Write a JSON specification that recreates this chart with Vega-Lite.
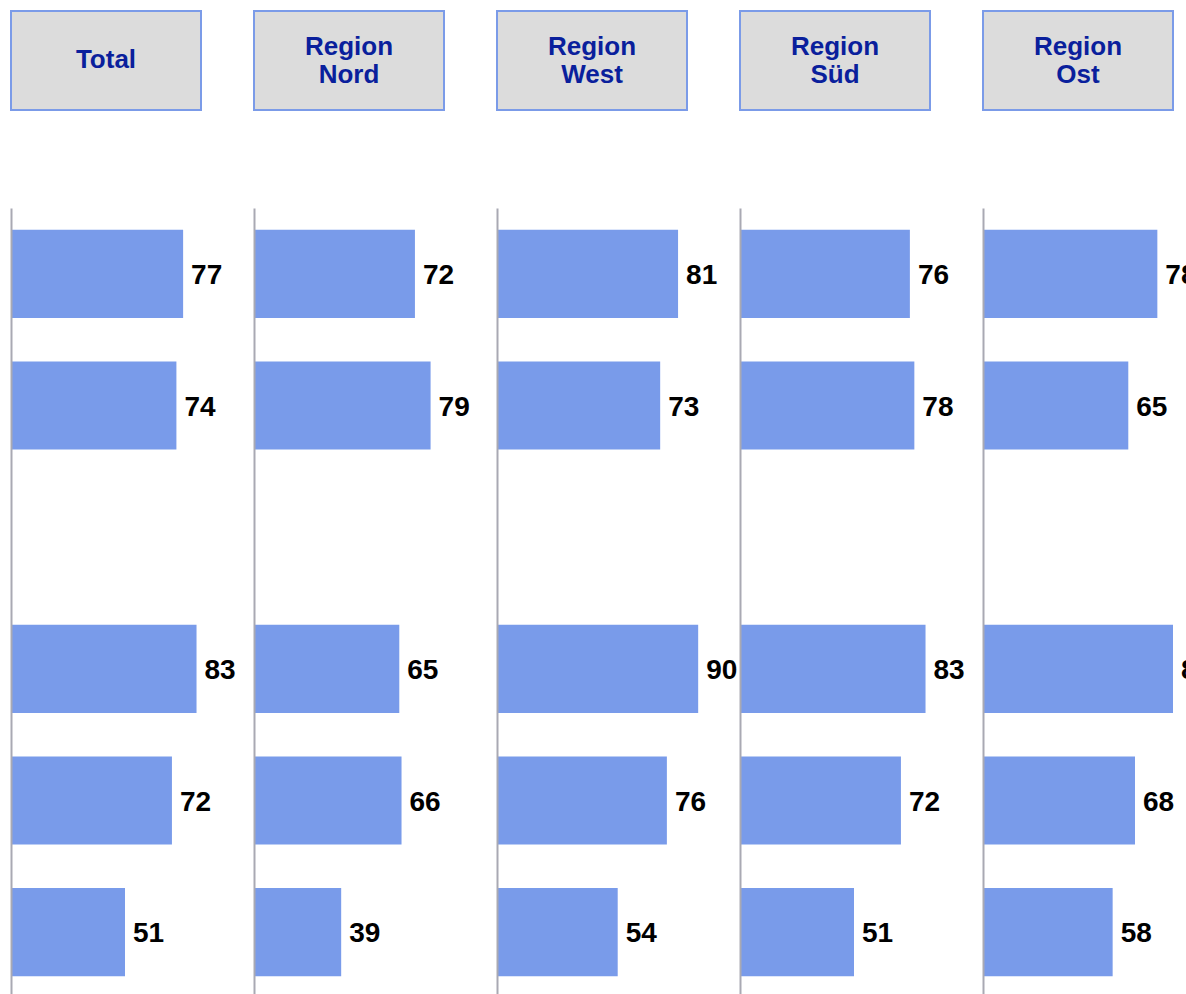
{
  "$schema": "https://vega.github.io/schema/vega-lite/v6.json",
  "padding": {"left": 10, "top": 10, "right": 0, "bottom": 0},
  "background": "white",
  "datasets": {
    "heads": [
      {"region": "Total", "label": ["Total"], "lines": 1},
      {"region": "Region Nord", "label": ["Region", "Nord"], "lines": 2},
      {"region": "Region West", "label": ["Region", "West"], "lines": 2},
      {"region": "Region Süd", "label": ["Region", "Süd"], "lines": 2},
      {"region": "Region Ost", "label": ["Region", "Ost"], "lines": 2}
    ],
    "bars": [
      {"region": "Total", "item": "r1", "value": 77},
      {"region": "Total", "item": "r2", "value": 74},
      {"region": "Total", "item": "r4", "value": 83},
      {"region": "Total", "item": "r5", "value": 72},
      {"region": "Total", "item": "r6", "value": 51},
      {"region": "Region Nord", "item": "r1", "value": 72},
      {"region": "Region Nord", "item": "r2", "value": 79},
      {"region": "Region Nord", "item": "r4", "value": 65},
      {"region": "Region Nord", "item": "r5", "value": 66},
      {"region": "Region Nord", "item": "r6", "value": 39},
      {"region": "Region West", "item": "r1", "value": 81},
      {"region": "Region West", "item": "r2", "value": 73},
      {"region": "Region West", "item": "r4", "value": 90},
      {"region": "Region West", "item": "r5", "value": 76},
      {"region": "Region West", "item": "r6", "value": 54},
      {"region": "Region Süd", "item": "r1", "value": 76},
      {"region": "Region Süd", "item": "r2", "value": 78},
      {"region": "Region Süd", "item": "r4", "value": 83},
      {"region": "Region Süd", "item": "r5", "value": 72},
      {"region": "Region Süd", "item": "r6", "value": 51},
      {"region": "Region Ost", "item": "r1", "value": 78},
      {"region": "Region Ost", "item": "r2", "value": 65},
      {"region": "Region Ost", "item": "r4", "value": 85},
      {"region": "Region Ost", "item": "r5", "value": 68},
      {"region": "Region Ost", "item": "r6", "value": 58}
    ]
  },
  "vconcat": [
    {
      "data": {"name": "heads"},
      "facet": {
        "column": {
          "field": "region",
          "sort": ["Total", "Region Nord", "Region West", "Region Süd", "Region Ost"],
          "header": null
        }
      },
      "spacing": 53,
      "bounds": "flush",
      "spec": {
        "width": 190,
        "height": 99,
        "view": {"fill": "#dcdcdc", "stroke": "#7b9be8", "strokeWidth": 2},
        "layer": [
          {
            "transform": [{"filter": "datum.lines == 1"}],
            "mark": {
              "type": "text",
              "font": "Liberation Sans",
              "fontWeight": "bold",
              "fontSize": 26,
              "lineHeight": 28,
              "color": "#0a1f9c",
              "align": "center",
              "baseline": "middle",
              "dy": -1
            },
            "encoding": {"text": {"field": "label"}}
          },
          {
            "transform": [{"filter": "datum.lines == 2"}],
            "mark": {
              "type": "text",
              "font": "Liberation Sans",
              "fontWeight": "bold",
              "fontSize": 26,
              "lineHeight": 28,
              "color": "#0a1f9c",
              "align": "center",
              "baseline": "middle",
              "dy": -14
            },
            "encoding": {"text": {"field": "label"}}
          }
        ]
      }
    },
    {
      "data": {"name": "bars"},
      "facet": {
        "column": {
          "field": "region",
          "sort": ["Total", "Region Nord", "Region West", "Region Süd", "Region Ost"],
          "header": null
        }
      },
      "spacing": 53,
      "bounds": "flush",
      "resolve": {"axis": {"y": "independent"}},
      "spec": {
        "width": 190,
        "height": 790,
        "view": {"stroke": null},
        "encoding": {
          "y": {
            "field": "item",
            "type": "nominal",
            "scale": {"domain": ["r1", "r2", "r3", "r4", "r5", "r6"], "paddingInner": 0.33, "paddingOuter": 0.165},
            "axis": {"labels": false, "ticks": false, "title": null, "domain": true, "domainColor": "#a9a9b3", "domainWidth": 2, "zindex": 1}
          },
          "x": {
            "field": "value",
            "type": "quantitative",
            "scale": {"domain": [0, 85], "nice": false},
            "axis": null
          }
        },
        "layer": [
          {"mark": {"type": "bar", "color": "#799bea"}},
          {
            "mark": {
              "type": "text",
              "align": "left",
              "baseline": "middle",
              "dx": 8,
              "dy": 2,
              "font": "Liberation Sans",
              "fontWeight": "bold",
              "fontSize": 28,
              "color": "black"
            },
            "encoding": {"text": {"field": "value", "type": "quantitative"}}
          }
        ]
      }
    }
  ],
  "spacing": 97,
  "config": {"view": {"stroke": null}}
}
